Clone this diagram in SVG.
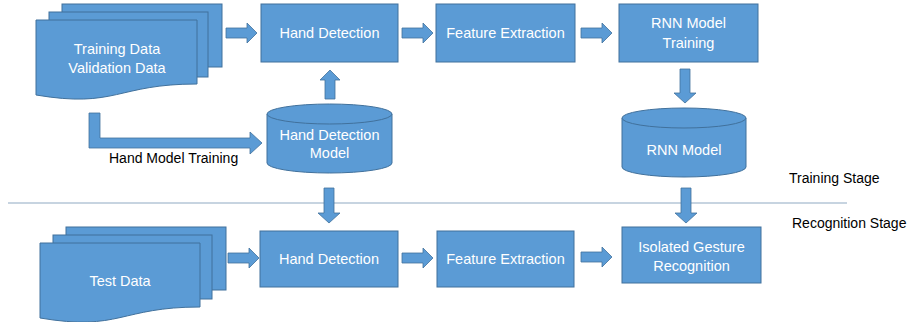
<svg xmlns="http://www.w3.org/2000/svg" width="909" height="322" viewBox="0 0 909 322">
<style>
.s{fill:#5B9BD5;stroke:#41719C;stroke-width:1}
.a{fill:#5B9BD5;stroke:#41719C;stroke-width:0.8}
.t{font-family:"Liberation Sans",Arial,sans-serif;font-size:14.5px;fill:#FFFFFF;text-anchor:middle}
.l{font-family:"Liberation Sans",Arial,sans-serif;font-size:14px;fill:#000000}
</style>
<rect width="909" height="322" fill="#FFFFFF"/>
<line x1="8" y1="203" x2="847" y2="203" stroke="#8FA9C2" stroke-width="1"/>

<g id="train-data">
<rect class="s" x="62" y="4" width="160" height="63"/>
<rect class="s" x="49" y="12" width="159" height="65"/>
<path class="s" d="M36,20 H197 V84 C116.5,84 116.5,108.6 36,95 Z"/>
<text class="t" x="117" y="54">Training Data</text>
<text class="t" x="117" y="73">Validation Data</text>
</g>

<g id="test-data">
<rect class="s" x="66" y="227" width="160" height="63"/>
<rect class="s" x="53" y="235" width="159" height="64"/>
<path class="s" d="M40,243 H200 V307 C120,307 120,331.6 40,318 Z"/>
<text class="t" x="120" y="286">Test Data</text>
</g>

<g id="hand-detection-train">
<rect class="s" x="261" y="4" width="137" height="58"/>
<text class="t" x="329.5" y="38">Hand Detection</text>
</g>

<g id="feature-extraction-train">
<rect class="s" x="436" y="4" width="139" height="58"/>
<text class="t" x="505.5" y="38">Feature Extraction</text>
</g>

<g id="rnn-training">
<rect class="s" x="619" y="4" width="139" height="58"/>
<text class="t" x="688.5" y="28">RNN Model</text>
<text class="t" x="688.5" y="48">Training</text>
</g>

<g id="hand-detection-model">
<path class="s" d="M267,114 V163 A62.5,10 0 0 0 392,163 V114"/>
<ellipse class="s" cx="329.5" cy="114" rx="62.5" ry="10"/>
<text class="t" x="329.5" y="140">Hand Detection</text>
<text class="t" x="329.5" y="158">Model</text>
</g>

<g id="rnn-model">
<path class="s" d="M622,118 V167 A62,10 0 0 0 746,167 V118"/>
<ellipse class="s" cx="684" cy="118" rx="62" ry="10"/>
<text class="t" x="684" y="155">RNN Model</text>
</g>

<g id="hand-detection-test">
<rect class="s" x="260" y="231" width="138" height="56"/>
<text class="t" x="329" y="264">Hand Detection</text>
</g>

<g id="feature-extraction-test">
<rect class="s" x="437" y="231" width="137" height="56"/>
<text class="t" x="505.5" y="264">Feature Extraction</text>
</g>

<g id="isolated-gesture">
<rect class="s" x="622" y="227" width="139" height="56"/>
<text class="t" x="691.5" y="252">Isolated Gesture</text>
<text class="t" x="691.5" y="271">Recognition</text>
</g>

<g id="labels">
<text class="l" x="109" y="163">Hand Model Training</text>
<text class="l" x="789" y="183">Training Stage</text>
<text class="l" x="792" y="228">Recognition Stage</text>
</g>

<g id="connectors">
<path class="a" d="M226,28 H247 V23 L257,33 L247,43 V38 H226 Z"/>
<path class="a" d="M402,28 H423 V23 L433,33 L423,43 V38 H402 Z"/>
<path class="a" d="M581,28 H602 V23 L612,33 L602,43 V38 H581 Z"/>
<path class="a" d="M228,253 H249 V248 L259,258 L249,268 V263 H228 Z"/>
<path class="a" d="M402,253 H423 V248 L433,258 L423,268 V263 H402 Z"/>
<path class="a" d="M581,252 H602 V247 L612,257 L602,267 V262 H581 Z"/>
<path class="a" d="M680,69 H690 V93 H696 L685,103 L674,93 H680 Z"/>
<path class="a" d="M324,188 H334 V213 H340 L329,223 L318,213 H324 Z"/>
<path class="a" d="M681,188 H691 V213 H697 L686,223 L675,213 H681 Z"/>
<path class="a" d="M325,99 V80 H320 L330,70 L340,80 H335 V99 Z"/>
<path class="a" d="M89,113 H100 V138 H250 V132 L262,143 L250,154 V148 H89 Z"/>
</g>
</svg>
